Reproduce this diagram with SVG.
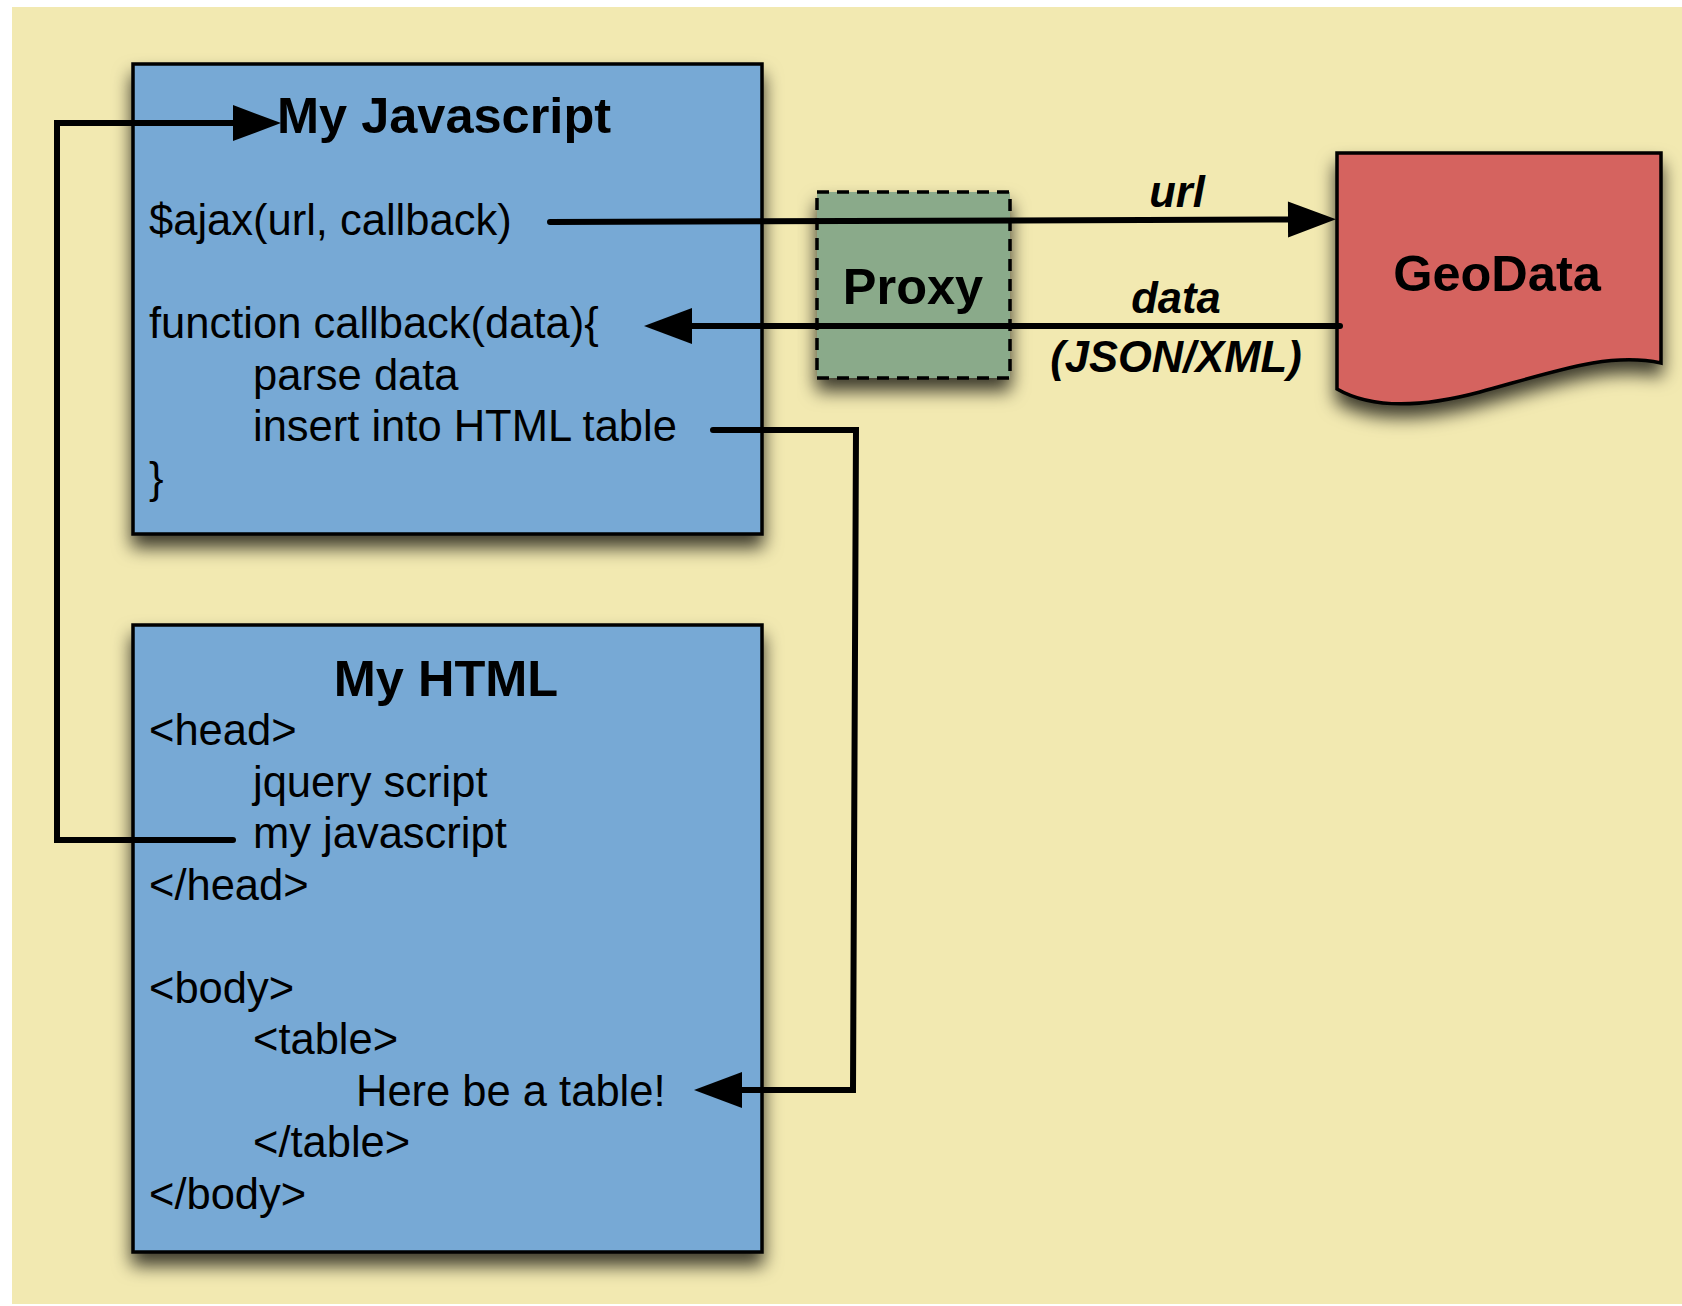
<svg xmlns="http://www.w3.org/2000/svg" width="1682" height="1306" viewBox="0 0 1682 1306">
<style>
.box{stroke:#000;stroke-width:3.5}
.js{fill:#77A9D5}
.proxy{fill:#8AAA8A;stroke-dasharray:12 8}
.geo{fill:#D5635E}
.t{font-family:"Liberation Sans",Arial,Helvetica,sans-serif;font-size:43.5px;fill:#000}
.b{font-weight:bold;font-size:50.5px}
.lbl{font-family:"Liberation Sans",Arial,Helvetica,sans-serif;font-size:43.5px;font-weight:bold;font-style:italic;fill:#000;text-anchor:middle}
.c{fill:none;stroke:#000;stroke-width:6;stroke-linecap:round;stroke-linejoin:miter}
</style>
<defs>
<filter id="sh" x="-10%" y="-10%" width="125%" height="135%">
<feDropShadow dx="0" dy="12" stdDeviation="9" flood-color="#000" flood-opacity="0.75"/>
</filter>
<marker id="ah" markerUnits="userSpaceOnUse" markerWidth="48" markerHeight="36" refX="0" refY="18" orient="auto" overflow="visible">
<path d="M0,0 L48,18 L0,36 z" fill="#000"/>
</marker>
</defs>
<rect x="0" y="0" width="1682" height="1306" fill="#fff"/>
<rect x="12" y="7" width="1670" height="1297" fill="#F2E9B1"/>

<g id="my-javascript">
<rect class="box js" x="133" y="64" width="629" height="470" filter="url(#sh)"/>
<text class="t b" x="277" y="133">My Javascript</text>
<text class="t" x="149" y="235">$ajax(url, callback)</text>
<text class="t" x="149" y="338">function callback(data){</text>
<text class="t" x="253" y="389.5">parse data</text>
<text class="t" x="253" y="441">insert into HTML table</text>
<text class="t" x="149" y="492.5">}</text>
</g>

<g id="my-html">
<rect class="box js" x="133" y="625" width="629" height="627" filter="url(#sh)"/>
<text class="t b" x="446" y="696" text-anchor="middle">My HTML</text>
<text class="t" x="149" y="745">&lt;head&gt;</text>
<text class="t" x="253" y="796.5">jquery script</text>
<text class="t" x="253" y="848">my javascript</text>
<text class="t" x="149" y="899.5">&lt;/head&gt;</text>
<text class="t" x="149" y="1002.5">&lt;body&gt;</text>
<text class="t" x="253" y="1054">&lt;table&gt;</text>
<text class="t" x="356" y="1105.5">Here be a table!</text>
<text class="t" x="253" y="1157">&lt;/table&gt;</text>
<text class="t" x="149" y="1208.5">&lt;/body&gt;</text>
</g>

<g id="proxy">
<rect class="box proxy" x="817" y="192" width="193" height="186" filter="url(#sh)"/>
<text class="t b" x="913" y="304" text-anchor="middle">Proxy</text>
</g>

<g id="geodata">
<path class="box geo" d="M1337,153 L1661,153 L1661,363 C1610,352 1560,370 1480,392 C1420,408 1370,408 1337,389 Z" filter="url(#sh)"/>
<text class="t b" x="1497" y="291" text-anchor="middle">GeoData</text>
</g>

<g id="connectors">
<path class="c" d="M233,840 L57,840 L57,123 L233,123" marker-end="url(#ah)"/>
<path class="c" d="M550,222 L1288,219.5" marker-end="url(#ah)"/>
<path class="c" d="M1340,326 L692,326" marker-end="url(#ah)"/>
<path class="c" d="M713,430 L856,430 L853,1090 L742,1090" marker-end="url(#ah)"/>
<text class="lbl" x="1177" y="207">url</text>
<text class="lbl" x="1176" y="313">data</text>
<text class="lbl" x="1176" y="372">(JSON/XML)</text>
</g>
</svg>
